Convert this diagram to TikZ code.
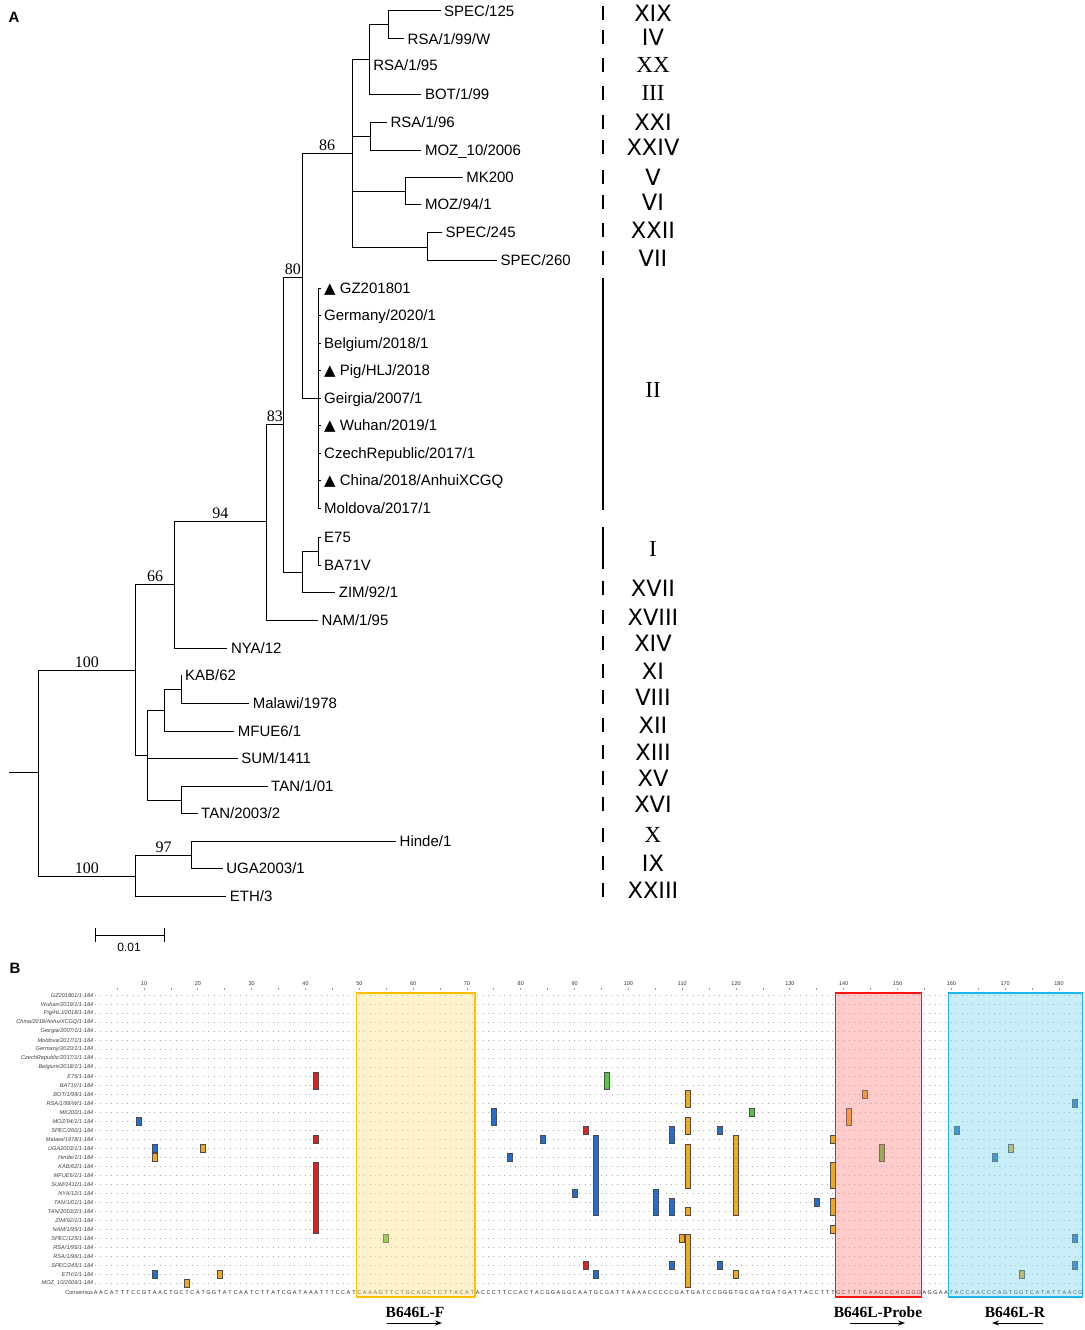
\documentclass[tikz,border=0pt]{standalone}
\usepackage{fontspec}
\setmainfont{Liberation Sans}
\newfontfamily\timesfont{Liberation Serif}
\newfontfamily\verdfont{DejaVu Sans}
\usetikzlibrary{arrows.meta}

\definecolor{mblue}{RGB}{35,110,205}
\definecolor{morange}{RGB}{240,168,35}
\definecolor{mred}{RGB}{220,35,35}
\definecolor{mgreen}{RGB}{80,205,60}
\definecolor{fyline}{RGB}{255,192,0}
\definecolor{fyfill}{RGB}{255,222,127}
\definecolor{prline}{RGB}{255,20,20}
\definecolor{prfill}{RGB}{255,127,127}
\definecolor{rbline}{RGB}{30,180,240}
\definecolor{rbfill}{RGB}{117,212,242}

\newcommand{\tri}{{\verdfont ▲}}
% consensus letters, one per column
\newcount\seqi
\def\seqloop#1{\ifx\relax#1\else\global\advance\seqi by 1\relax
  \node[cons] at ({colx(\the\seqi)},1293) {#1};\expandafter\seqloop\fi}

\begin{document}
\begin{tikzpicture}[x=1pt,y=-1pt,
declare function={colx(\q)=95.6+(\q-1)*5.382; rowy(\w)=995+9*\w;},
br/.style={draw, line width=1pt},
tip/.style={anchor=west, inner xsep=3.5pt, inner ysep=0pt,
  text height=10.5pt, text depth=0pt, font=\fontsize{15}{17}\selectfont},
bs/.style={above, inner sep=2pt, font=\timesfont\fontsize{16}{17}\selectfont},
grp/.style={font=\verdfont\fontsize{22.5}{24}\selectfont, inner sep=0pt},
grpserif/.style={font=\timesfont\fontsize{23}{24}\selectfont, inner sep=0pt},
gbar/.style={draw, line width=1.7pt},
rowlab/.style={anchor=east, inner sep=0.5pt,
  font=\itshape\fontsize{5.6}{6}\selectfont, text=black!75},
dotrow/.style={draw=gray!65, line width=1pt, dash pattern=on 1pt off 4.382pt},
snp/.style={draw=black!70, line width=0.6pt},
cons/.style={inner sep=0pt, font=\fontsize{5.5}{6}\selectfont, text=black!85},
ruler/.style={inner sep=0pt, font=\fontsize{5.5}{6}\selectfont, text=black!80},
pbox/.style={line width=1.4pt, fill opacity=0.4},
primer/.style={font=\timesfont\bfseries\fontsize{15.5}{17}\selectfont},
parr/.style={draw, line width=1pt, -{Stealth[length=7pt,width=5pt]}}
]
\useasboundingbox (0,0) rectangle (1084,1330);

% panel A
\node[font=\bfseries\fontsize{15}{16}\selectfont] (lblA) at (14,17) {A};

\coordinate (stem) at (9,772);
\coordinate (root) at (38,772);
\coordinate (nA) at (135.5,670);
\coordinate (nB) at (135.5,876);
\coordinate (n66) at (174.5,584);
\coordinate (n94) at (266.3,521);
\coordinate (n83) at (283.6,424);
\coordinate (n80) at (302,277);
\coordinate (n86) at (352.4,153);
\coordinate (nS1) at (369.7,60);
\coordinate (nS2) at (388,25);
\coordinate (nR) at (370.8,136);
\coordinate (nM) at (405.2,191);
\coordinate (nSP) at (427,247);
\coordinate (nII) at (318,398);
\coordinate (nE) at (302,572);
\coordinate (nEB) at (318,551);
\coordinate (nK) at (147,755);
\coordinate (nK1) at (164.2,710);
\coordinate (nK2) at (181.4,689);
\coordinate (nT) at (181.4,800);
\coordinate (n97) at (191.7,855);

\node[tip] (spec125) at (440.5,11) {SPEC/125};
\node[tip] (rsa199w) at (404,39) {RSA/1/99/W};
\node[tip] (rsa195) at (369.7,65) {RSA/1/95};
\node[tip] (bot199) at (421.3,94) {BOT/1/99};
\node[tip] (rsa196) at (386.9,122) {RSA/1/96};
\node[tip] (moz10) at (421.3,150) {MOZ\_10/2006};
\node[tip] (mk200) at (462.6,177) {MK200};
\node[tip] (moz94) at (421.3,204) {MOZ/94/1};
\node[tip] (spec245) at (442,232) {SPEC/245};
\node[tip] (spec260) at (497,260) {SPEC/260};
\node[tip] (gz) at (320.5,288) {\tri\ GZ201801};
\node[tip] (germany) at (320.5,315) {Germany/2020/1};
\node[tip] (belgium) at (320.5,343) {Belgium/2018/1};
\node[tip] (pighlj) at (320.5,370) {\tri\ Pig/HLJ/2018};
\node[tip] (geirgia) at (320.5,398) {Geirgia/2007/1};
\node[tip] (wuhan) at (320.5,425) {\tri\ Wuhan/2019/1};
\node[tip] (czech) at (320.5,453) {CzechRepublic/2017/1};
\node[tip] (china) at (320.5,480) {\tri\ China/2018/AnhuiXCGQ};
\node[tip] (moldova) at (320.5,508) {Moldova/2017/1};
\node[tip] (e75) at (320.5,537) {E75};
\node[tip] (ba71v) at (320.5,565) {BA71V};
\node[tip] (zim) at (335.2,592) {ZIM/92/1};
\node[tip] (nam) at (318,620) {NAM/1/95};
\node[tip] (nya) at (227.3,648) {NYA/12};
\node[tip] (kab) at (181.4,675) {KAB/62};
\node[tip] (malawi) at (249.1,703) {Malawi/1978};
\node[tip] (mfue) at (234.2,731) {MFUE6/1};
\node[tip] (sum) at (237.6,758) {SUM/1411};
\node[tip] (tan101) at (267.5,786) {TAN/1/01};
\node[tip] (tan2003) at (197.5,813) {TAN/2003/2};
\node[tip] (hinde) at (396,841) {Hinde/1};
\node[tip] (uga) at (222.7,868) {UGA2003/1};
\node[tip] (eth) at (226.2,896) {ETH/3};

\draw[br] (stem) -- (root);
\foreach \p/\c in {root/nA, root/nB, nA/n66, nA/nK, n66/n94, n66/nya.west,
  n94/n83, n94/nam.west, n83/n80, n83/nE, n80/n86, n80/nII,
  n86/nS1, n86/nR, n86/nM, n86/nSP,
  nS1/nS2, nS1/rsa195.west, nS1/bot199.west, nS2/spec125.west, nS2/rsa199w.west,
  nR/rsa196.west, nR/moz10.west, nM/mk200.west, nM/moz94.west,
  nSP/spec245.west, nSP/spec260.west,
  nII/gz.west, nII/germany.west, nII/belgium.west, nII/pighlj.west, nII/geirgia.west,
  nII/wuhan.west, nII/czech.west, nII/china.west, nII/moldova.west,
  nE/nEB, nE/zim.west, nEB/e75.west, nEB/ba71v.west,
  nK/nK1, nK/sum.west, nK/nT, nK1/nK2, nK1/mfue.west, nK2/kab.west, nK2/malawi.west,
  nT/tan101.west, nT/tan2003.west,
  nB/n97, nB/eth.west, n97/hinde.west, n97/uga.west}
  \draw[br] (\p) |- (\c);

% bootstrap values
\path (n80 |- n86) -- (n86) node[bs, midway] {86};
\path (n83 |- n80) -- (n80) node[bs, midway] {80};
\path (n94 |- n83) -- (n83) node[bs, midway] {83};
\path (n66 |- n94) -- (n94) node[bs, midway] {94};
\path (nA |- n66) -- (n66) node[bs, midway] {66};
\path (root |- nA) -- (nA) node[bs, midway] {100};
\path (root |- nB) -- (nB) node[bs, midway] {100};
\path (nB |- n97) -- (n97) node[bs, midway] {97};

% scale bar
\coordinate (sb1) at (95.3,935);
\coordinate (sb2) at (164.2,935);
\draw[br] (sb1) -- (sb2);
\draw[br] ([yshift=7pt]sb1) -- ([yshift=-7pt]sb1);
\draw[br] ([yshift=7pt]sb2) -- ([yshift=-7pt]sb2);
\node[font=\fontsize{12}{13}\selectfont] (sblab) at (129,947) {0.01};

% genotypes
\foreach \g/\yy in {XIX/13, IV/37, XXI/122, XXIV/147, V/177, VI/202, XXII/230,
  VII/258, XVII/588, XVIII/617, XIV/643, XI/671, VIII/697, XII/725, XIII/752,
  XV/778, XVI/804, IX/863, XXIII/890}{
  \node[grp] (g-\g) at (653,\yy) {\g};
  \draw[gbar] (603,\yy-7) -- (603,\yy+7);
}
\foreach \g/\yy in {XX/65, III/93, X/835}{
  \node[grpserif] (g-\g) at (653,\yy) {\g};
  \draw[gbar] (603,\yy-7) -- (603,\yy+7);
}
\node[grpserif] (g-II) at (653,390) {II};
\draw[gbar] (603,278) -- (603,510);
\node[grpserif] (g-I) at (653,549) {I};
\draw[gbar] (603,527) -- (603,569);

% panel B
\node[font=\bfseries\fontsize{15}{16}\selectfont] (lblB) at (15,968) {B};

\foreach \k in {10,20,...,180}
  \node[ruler] at ({colx(\k)},984) {\k};
\foreach \k in {5,10,...,180}
  \draw[gray!80, line width=0.8pt] ({colx(\k)},988) -- ({colx(\k)},990);

\foreach \lab [count=\i from 0] in {GZ201801/1-184, Wuhan/2019/1/1-184,
  Pig/HLJ/2018/1-184, China/2018/AnhuiXCGQ/1-184, Geirgia/2007/1/1-184,
  Moldova/2017/1/1-184, Germany/2020/1/1-184, CzechRepublic/2017/1/1-184,
  Belgium/2018/1/1-184, E75/1-184, BA71V/1-184, BOT/1/99/1-184,
  RSA/1/99/W/1-184, MK200/1-184, MOZ/94/1/1-184, SPEC/260/1-184,
  Malawi/1978/1-184, UGA2003/1/1-184, Hinde/1/1-184, KAB/62/1-184,
  MFUE6/1/1-184, SUM/1411/1-184, NYA/12/1-184, TAN/1/01/1-184,
  TAN/2003/2/1-184, ZIM/92/1/1-184, NAM/1/95/1-184, SPEC/125/1-184,
  RSA/1/95/1-184, RSA/1/96/1-184, SPEC/245/1-184, ETH/1/1-184,
  MOZ\_10/2006/1-184}{
  \node[rowlab] (row\i) at (94,{rowy(\i)}) {\lab};
  \draw[dotrow] ({colx(1)-0.5},{rowy(\i)}) -- ({colx(184)+0.5},{rowy(\i)});
}

% variant sites: column / first row / last row / colour
\foreach \k/\ra/\rb/\mc in {42/9/10/mred, 42/16/16/mred, 42/19/26/mred,
  92/15/15/mred, 92/30/30/mred,
  9/14/14/mblue, 12/17/17/mblue, 12/31/31/mblue, 75/13/14/mblue,
  108/15/16/mblue, 117/15/15/mblue, 84/16/16/mblue, 94/16/24/mblue,
  78/18/18/mblue, 90/22/22/mblue, 105/22/24/mblue, 108/23/24/mblue,
  108/30/30/mblue, 94/31/31/mblue, 117/30/30/mblue, 183/12/12/mblue,
  161/15/15/mblue, 168/18/18/mblue, 135/23/23/mblue, 183/27/27/mblue,
  183/30/30/mblue,
  21/17/17/morange, 12/18/18/morange, 24/31/31/morange, 18/32/32/morange,
  111/11/12/morange, 111/14/15/morange, 111/17/21/morange, 111/24/24/morange,
  110/27/27/morange, 111/27/32/morange, 120/16/24/morange, 138/16/16/morange,
  138/19/21/morange, 138/23/24/morange, 138/26/26/morange, 120/31/31/morange,
  173/31/31/morange, 171/17/17/morange, 141/13/14/morange, 144/11/11/morange,
  96/9/10/mgreen, 55/27/27/mgreen, 123/13/13/mgreen, 147/17/18/mgreen}
  \draw[snp, fill=\mc] ({colx(\k)-2.5},{rowy(\ra)-4}) rectangle ({colx(\k)+2.5},{rowy(\rb)+4});

\node[rowlab, font=\fontsize{5.6}{6}\selectfont] (consl) at (94,1293) {Consensus};
\global\seqi=0
\seqloop AACATTTCCGTAACTGCTCATGGTATCAATCTTATCGATAAATTTCCATCAAAGTTCTGCAGCTCTTACATACCCTTCCACTACGGAGGCAATGCGATTAAAACCCCCGATGATCCGGGTGCGATGATGATTACCTTTGCTTTGAAGCCACGGGAGGAATACCAACCCAGTGGTCATATTAACG\relax

% primer and probe regions
\draw[pbox, draw=fyline, fill=fyfill] ({colx(50)-2.7},993) rectangle ({colx(71)+2.7},1297);
\draw[pbox, draw=prline, fill=prfill] ({colx(139)-2.7},993) rectangle ({colx(154)+2.7},1297);
\draw[pbox, draw=rbline, fill=rbfill] ({colx(160)-2.7},993) rectangle ({colx(184)+2.2},1297);

\node[primer] (pf) at (415,1312) {B646L-F};
\node[primer] (pp) at (878,1312) {B646L-Probe};
\node[primer] (pr) at (1015,1312) {B646L-R};
\coordinate (pf1) at (387,1323);
\coordinate (pf2) at (442,1323);
\coordinate (pp1) at (850,1323);
\coordinate (pp2) at (905,1323);
\coordinate (pr1) at (1043,1323);
\coordinate (pr2) at (992,1323);
\draw[parr] (pf1) -- (pf2);
\draw[parr] (pp1) -- (pp2);
\draw[parr] (pr1) -- (pr2);
\end{tikzpicture}
\end{document}
